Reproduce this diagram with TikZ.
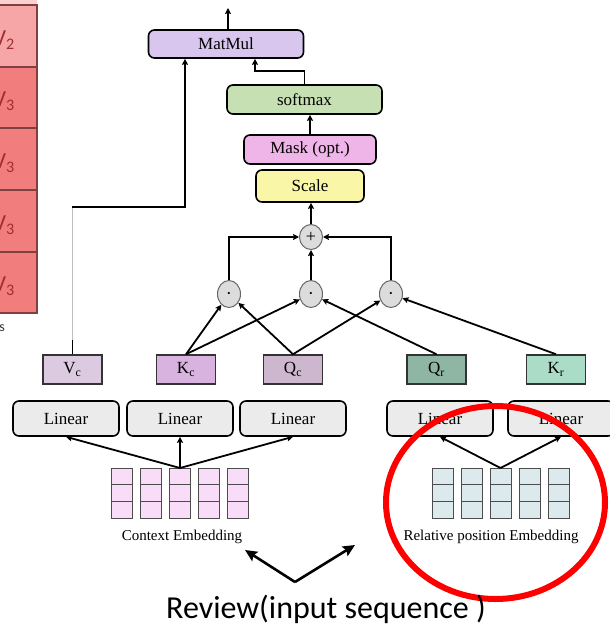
\documentclass[tikz,border=0pt]{standalone}
\usepackage{fontspec}
\setmainfont{Liberation Serif}
\newfontfamily\revfont{Carlito}
\usetikzlibrary{arrows.meta,shapes.geometric,calc}

\definecolor{mmfill}{HTML}{D8C6EE}
\definecolor{smfill}{HTML}{C6E0B4}
\definecolor{mkfill}{HTML}{EFB4E8}
\definecolor{scfill}{HTML}{FAF6A8}
\definecolor{opfill}{HTML}{DCDCDC}
\definecolor{linfill}{HTML}{EBEBEB}
\definecolor{vcfill}{HTML}{DCCBE0}
\definecolor{kcfill}{HTML}{D9B3E0}
\definecolor{qcfill}{HTML}{CDB7CF}
\definecolor{qrfill}{HTML}{8FB5A5}
\definecolor{krfill}{HTML}{ABDCC8}
\definecolor{ctxfill}{HTML}{F8DCF8}
\definecolor{relfill}{HTML}{DCEAED}
\definecolor{cellA}{HTML}{FAD0D0}
\definecolor{cellB}{HTML}{F6A6A6}
\definecolor{cellC}{HTML}{F27D7D}
\definecolor{cellline}{HTML}{7E4040}
\definecolor{celltext}{HTML}{A03030}

\tikzset{
  arr/.style={line width=1.8pt,-{Stealth[length=6pt,width=6pt,inset=1pt]}},
  plain/.style={line width=1.8pt},
  bigarr/.style={line width=2.6pt,-{Stealth[length=12pt,width=11pt,inset=2pt]}},
  opbox/.style={draw=black,line width=1.6pt,rounded corners=6pt,inner sep=0pt,
                font=\fontsize{17}{20}\selectfont},
  valbox/.style={draw=black!80,line width=1.5pt,inner sep=0pt,minimum width=59pt,
                 minimum height=29pt,font=\fontsize{17}{20}\selectfont},
  linbox/.style={opbox,fill=linfill,minimum width=106pt,minimum height=35pt},
  opcirc/.style={ellipse,draw=black!60,line width=1pt,fill=opfill,inner sep=0pt,
                 minimum width=23pt,minimum height=27pt},
  dotmark/.style={opcirc,font=\fontsize{9}{9}\selectfont},
  cell/.style={draw=black!70,line width=1pt},
  caption/.style={font=\fontsize{15}{18}\selectfont},
  strip/.style={draw=cellline,line width=1.2pt},
  striptext/.style={text=celltext,font=\revfont\fontsize{23}{25}\selectfont,anchor=east,inner sep=0pt}
}

\begin{document}
\begin{tikzpicture}[x=1pt,y=-1pt]
\useasboundingbox (0,0) rectangle (610,629);

% value cells along the left edge
\fill[cellA] (-10,-10) rectangle (37,5);
\filldraw[fill=cellB,strip] (-10,5) rectangle (37,67);
\foreach \ya/\yb in {67/128,128/190,190/252,252/313}
  \filldraw[fill=cellC,strip] (-10,\ya) rectangle (37,\yb);
\node[striptext] (v2) at (15,40) {V\textsubscript{2}};
\node[striptext] (v3a) at (15,101) {V\textsubscript{3}};
\node[striptext] (v3b) at (15,163) {V\textsubscript{3}};
\node[striptext] (v3c) at (15,225) {V\textsubscript{3}};
\node[striptext] (v3d) at (15,286) {V\textsubscript{3}};
\node[anchor=east,inner sep=0pt,text=black!80,font=\revfont\fontsize{14}{16}\selectfont] (vs) at (5,328) {s};

% attention stack
\node[opbox,fill=mmfill,minimum width=155pt,minimum height=28pt] (mm) at (226,44) {MatMul};
\node[opbox,fill=smfill,minimum width=155pt,minimum height=29pt] (sm) at (304.5,99.5) {softmax};
\node[opbox,fill=mkfill,minimum width=132pt,minimum height=29pt] (mk) at (310,149.5) {Mask (opt.)};
\node[opbox,fill=scfill,minimum width=108pt,minimum height=32pt] (sc) at (310,186) {Scale};

\node[opcirc,minimum height=25pt,font=\fontsize{18}{18}\selectfont] (plus) at (311,237) {+};
\node[dotmark] (d1) at (229,294) {\textbullet};
\node[dotmark] (d2) at (311,294) {\textbullet};
\node[dotmark] (d3) at (391,294) {\textbullet};

% projected queries, keys and values
\node[valbox,fill=vcfill] (vc) at (72.5,369.5) {V\textsubscript{c}};
\node[valbox,fill=kcfill] (kc) at (186,369.5) {K\textsubscript{c}};
\node[valbox,fill=qcfill] (qc) at (293,369.5) {Q\textsubscript{c}};
\node[valbox,fill=qrfill] (qr) at (436.5,369.5) {Q\textsubscript{r}};
\node[valbox,fill=krfill] (kr) at (556,369.5) {K\textsubscript{r}};

% linear projections
\node[linbox] (l1) at (66,418.5) {Linear};
\node[linbox] (l2) at (180,418.5) {Linear};
\node[linbox] (l3) at (293,418.5) {Linear};
\node[linbox] (l4) at (440,418.5) {Linear};
\node[linbox] (l5) at (561,418.5) {Linear};

% embedding grids
\foreach \x in {111,140,169,198,227}
  \foreach \ya/\yb in {468/484.7,484.7/501.3,501.3/518}
    \filldraw[fill=ctxfill,cell] (\x,\ya) rectangle ++(21.5,\yb-\ya);
\foreach \x in {432,461,490,519,548}
  \foreach \ya/\yb in {468/484.7,484.7/501.3,501.3/518}
    \filldraw[fill=relfill,cell] (\x,\ya) rectangle ++(21.5,\yb-\ya);
\coordinate (ctxtop) at (180,468);
\coordinate (reltop) at (500.5,468);
\node[caption] (ctxcap) at (182,537) {Context Embedding};
\node[caption] (relcap) at (491,537) {Relative position Embedding};

% embeddings into the linear layers
\draw[arr] (ctxtop) -- (l1.south);
\draw[arr] (ctxtop) -- (l2.south);
\draw[arr] (ctxtop) -- (l3.south);
\draw[arr] (reltop) -- (l4.south);
\draw[arr] (reltop) -- (l5.south);

% score terms
\draw[arr] (kc.north) -- (d1);
\draw[arr] (kc.north) -- (d2);
\draw[arr] (qc.north) -- (d1);
\draw[arr] (qc.north) -- (d3);
\draw[arr] (qr.north) -- (d2);
\draw[arr] (kr.north) -- (d3);

\draw[arr] (d1.north) |- (plus.west);
\draw[arr] (d3.north) |- (plus.east);
\draw[arr] (d2.north) -- (plus.south);
\draw[arr] (plus.north) -- (plus.north |- sc.south);
\draw[arr] (mk.north) -- (mk.north |- sm.south);
\draw[arr] (sm.north) -- ++(0,-13) -| ([xshift=29pt]mm.south);
\coordinate (mmout) at (228,8);
\draw[arr] (mm.north -| mmout) -- (mmout);

% value path
\coordinate (vup) at (72.5,340);
\coordinate (vbend) at (72.5,207);
\draw[plain] (vc.north) -- (vup);
\draw[black!25,line width=0.8pt] (vup) -- (vbend);
\draw[arr] ([xshift=-0.9pt]vbend) -| ([xshift=-41pt]mm.south);

% highlight
\draw[red,line width=6pt] (495.5,502.5) ellipse [x radius=109.5pt,y radius=96.5pt];

% input sequence
\coordinate (rvtip) at (295,582);
\coordinate (rvl) at (245,550);
\coordinate (rvr) at (355,545);
\draw[bigarr] (rvtip) -- (rvl);
\draw[bigarr] (rvtip) -- (rvr);
\node[font=\revfont\fontsize{32}{34}\selectfont,inner sep=0pt] (review) at (326,609) {Review(input sequence )};
\end{tikzpicture}
\end{document}
